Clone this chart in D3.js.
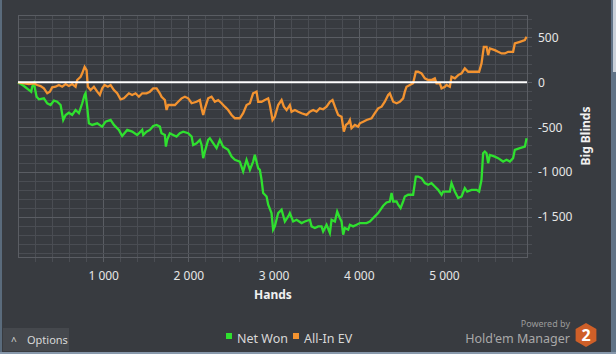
<!DOCTYPE html>
<html>
<head>
<meta charset="utf-8">
<script src="https://cdn.jsdelivr.net/npm/d3@7"></script>
<style>
  html, body { margin: 0; padding: 0; background: #383b40; }
  svg { display: block; }
</style>
</head>
<body>
<svg id="chart" width="616" height="354"></svg>
<script>
// values (hands, big blinds)
const netWonHands = [0, 70, 130, 155, 167, 187, 218, 245, 304, 343, 383, 421, 460, 500, 531, 559, 597, 636, 676, 715, 754, 782, 793, 812, 832, 871, 930, 988, 1028, 1087, 1126, 1184, 1223, 1282, 1340, 1399, 1458, 1470, 1509, 1548, 1587, 1627, 1665, 1685, 1724, 1736, 1751, 1783, 1822, 1861, 1900, 1939, 1998, 2038, 2056, 2096, 2135, 2155, 2174, 2194, 2232, 2252, 2291, 2331, 2370, 2408, 2467, 2507, 2546, 2604, 2643, 2683, 2722, 2760, 2780, 2819, 2839, 2859, 2878, 2918, 2937, 2976, 2995, 3015, 3054, 3094, 3133, 3172, 3191, 3230, 3270, 3329, 3367, 3426, 3446, 3485, 3524, 3563, 3582, 3622, 3661, 3681, 3720, 3747, 3778, 3798, 3817, 3837, 3876, 3896, 3934, 3974, 4013, 4092, 4130, 4189, 4228, 4287, 4326, 4365, 4385, 4404, 4444, 4463, 4491, 4521, 4541, 4580, 4638, 4670, 4697, 4737, 4776, 4815, 4854, 4893, 4932, 4972, 4991, 5030, 5069, 5089, 5128, 5167, 5207, 5245, 5273, 5324, 5383, 5413, 5441, 5460, 5480, 5500, 5519, 5539, 5597, 5636, 5695, 5735, 5774, 5812, 5832, 5891, 5950, 5970];
const netWonBB = [0, -41, -86, -104, -49, -11, -160, -189, -178, -233, -252, -204, -216, -252, -419, -363, -338, -363, -308, -344, -233, -141, -122, -271, -456, -474, -456, -493, -438, -419, -474, -530, -597, -530, -549, -586, -530, -586, -549, -530, -486, -474, -493, -567, -586, -716, -641, -567, -586, -604, -567, -549, -567, -604, -697, -678, -641, -697, -844, -771, -641, -622, -678, -733, -641, -716, -752, -827, -863, -882, -993, -863, -974, -882, -808, -956, -974, -1085, -1233, -1271, -1363, -1456, -1641, -1604, -1456, -1419, -1549, -1493, -1456, -1549, -1530, -1567, -1549, -1530, -1604, -1622, -1604, -1604, -1660, -1586, -1678, -1530, -1549, -1438, -1511, -1549, -1697, -1622, -1641, -1586, -1604, -1586, -1567, -1567, -1549, -1493, -1456, -1374, -1338, -1327, -1233, -1327, -1327, -1363, -1400, -1327, -1271, -1252, -1252, -1049, -1049, -1067, -1122, -1141, -1122, -1160, -1197, -1252, -1216, -1216, -1216, -1122, -1216, -1289, -1271, -1178, -1216, -1197, -1197, -1216, -1085, -789, -771, -789, -900, -808, -827, -844, -882, -863, -882, -844, -752, -733, -716, -622];

const allInHands = [0, 128, 187, 225, 265, 304, 343, 374, 401, 441, 480, 519, 559, 597, 636, 676, 695, 735, 754, 782, 805, 820, 852, 891, 930, 961, 988, 1016, 1055, 1087, 1126, 1164, 1204, 1243, 1302, 1340, 1380, 1419, 1458, 1509, 1548, 1587, 1627, 1665, 1685, 1724, 1744, 1763, 1803, 1842, 1880, 1920, 1959, 1998, 2038, 2096, 2135, 2155, 2174, 2194, 2232, 2272, 2311, 2350, 2390, 2428, 2467, 2507, 2546, 2604, 2643, 2683, 2722, 2760, 2800, 2819, 2859, 2898, 2937, 2956, 2988, 3015, 3054, 3094, 3121, 3153, 3191, 3211, 3250, 3289, 3329, 3387, 3426, 3465, 3505, 3543, 3582, 3622, 3661, 3692, 3720, 3758, 3798, 3825, 3849, 3876, 3896, 3915, 3954, 3993, 4013, 4052, 4092, 4150, 4189, 4228, 4268, 4306, 4345, 4365, 4404, 4444, 4482, 4521, 4541, 4561, 4600, 4638, 4670, 4697, 4737, 4776, 4815, 4854, 4893, 4913, 4952, 4972, 5011, 5030, 5069, 5089, 5128, 5167, 5207, 5245, 5285, 5343, 5413, 5441, 5468, 5500, 5519, 5539, 5597, 5636, 5676, 5715, 5754, 5812, 5832, 5891, 5950, 5970];
const allInBB = [0, -19, -11, -30, -41, -67, -122, -104, -56, -49, -30, -49, -19, -41, -19, -49, 26, 62, 100, 173, 137, -49, -86, -49, -104, -141, -67, -30, -49, -30, -86, -122, -189, -178, -122, -141, -122, -160, -122, -122, -104, -67, -67, -122, -160, -197, -308, -252, -252, -252, -216, -178, -160, -178, -233, -216, -197, -289, -363, -289, -178, -160, -216, -197, -233, -271, -308, -363, -400, -400, -344, -252, -233, -122, -104, -216, -216, -197, -178, -252, -419, -382, -252, -197, -271, -308, -252, -327, -308, -327, -344, -363, -327, -308, -327, -289, -300, -271, -216, -197, -271, -363, -382, -549, -474, -456, -419, -511, -474, -493, -456, -438, -419, -400, -344, -289, -271, -216, -141, -122, -216, -233, -216, -178, -104, -49, -30, -11, 118, 118, 100, 44, 26, 26, 44, -11, -11, -67, -49, -30, -49, 62, 44, 81, 100, 156, 118, 118, 118, 211, 396, 396, 303, 378, 359, 340, 322, 322, 340, 340, 433, 451, 470, 507];

const seriesNames = ["Net Won", "All-In EV"];
const seriesColors = ["#2fe02f", "#f39330"];
const xTicks = [1000, 2000, 3000, 4000, 5000];
const yTicks = [-1500, -1000, -500, 0, 500];

const svg = d3.select("#chart");
const W = 616, H = 354;
const plot = { left: 18, right: 527, top: 15, bottom: 257 };

const x = d3.scaleLinear().domain([0, 5975]).range([plot.left, plot.right]);
const y = d3.scaleLinear().domain([-1945, 750]).range([plot.bottom, plot.top]);

const fmt = v => d3.format(",")(v).replace(/,/g, " ").replace("\u2212", "-");

svg.append("rect").attr("width", W).attr("height", H).attr("fill", "#383b40");

// window edges
svg.append("rect").attr("x", 0).attr("y", 0).attr("width", 2).attr("height", H).attr("fill", "#5a6b7c");
svg.append("rect").attr("x", 611).attr("y", 0).attr("width", 5).attr("height", H).attr("fill", "#607386");
svg.append("rect").attr("x", 613).attr("y", 0).attr("width", 3).attr("height", 72).attr("fill", "#c9d0d8");
svg.append("rect").attr("x", 0).attr("y", 352).attr("width", W).attr("height", 2).attr("fill", "#8798ab");

const g = svg.append("g");

// minor grid
g.append("g").selectAll("line")
  .data(d3.range(200, 5975, 200))
  .join("line")
  .attr("x1", d => Math.round(x(d)) + 0.5).attr("x2", d => Math.round(x(d)) + 0.5)
  .attr("y1", plot.top).attr("y2", plot.bottom + 5)
  .attr("stroke", d => d % 1000 === 0 ? "#5a5d63" : "#4a4d53");

g.append("g").selectAll("line")
  .data(d3.range(-1900, 751, 100))
  .join("line")
  .attr("x1", plot.left).attr("x2", plot.right + 5)
  .attr("y1", d => Math.round(y(d)) + 0.5).attr("y2", d => Math.round(y(d)) + 0.5)
  .attr("stroke", d => d % 500 === 0 ? "#5a5d63" : "#4a4d53");

// frame
g.append("rect")
  .attr("x", plot.left + 0.5).attr("y", plot.top + 0.5)
  .attr("width", plot.right - plot.left).attr("height", plot.bottom - plot.top)
  .attr("fill", "none").attr("stroke", "#5a5d63");

// series
const seriesData = [
  netWonHands.map((h, i) => [h, netWonBB[i]]),
  allInHands.map((h, i) => [h, allInBB[i]])
];
const line = d3.line().x(d => x(d[0])).y(d => y(d[1]));
seriesData.forEach((s, i) => {
  g.append("path")
    .attr("d", line(s))
    .attr("fill", "none")
    .attr("stroke", seriesColors[i])
    .attr("stroke-width", 2.3)
    .attr("stroke-linejoin", "miter");
});

// zero line
g.append("line")
  .attr("x1", plot.left).attr("x2", plot.right)
  .attr("y1", y(0)).attr("y2", y(0))
  .attr("stroke", "#ffffff").attr("stroke-width", 2);

// axes
const xAxis = g.append("g")
  .attr("transform", `translate(0,${plot.bottom})`)
  .call(d3.axisBottom(x).tickValues(xTicks).tickFormat(fmt).tickSize(0).tickPadding(14));
const yAxis = g.append("g")
  .attr("transform", `translate(${plot.right},0)`)
  .call(d3.axisRight(y).tickValues(yTicks).tickFormat(fmt).tickSize(0).tickPadding(11));
[xAxis, yAxis].forEach(a => {
  a.select(".domain").remove();
  a.selectAll("text")
    .attr("fill", "#e6e6e6")
    .style("font-family", "'Noto Sans', sans-serif")
    .style("font-size", "12px");
});

svg.append("text")
  .attr("x", 273).attr("y", 299)
  .attr("text-anchor", "middle")
  .attr("fill", "#f0f0f0")
  .style("font-family", "'Noto Sans', sans-serif")
  .style("font-size", "12px").style("font-weight", "bold")
  .text("Hands");

svg.append("text")
  .attr("transform", "translate(590,136) rotate(-90)")
  .attr("text-anchor", "middle")
  .attr("fill", "#f0f0f0")
  .style("font-family", "'Noto Sans', sans-serif")
  .style("font-size", "12px").style("font-weight", "bold")
  .text("Big Blinds");

// legend
const legendX = [226, 293];
seriesNames.forEach((name, i) => {
  svg.append("rect")
    .attr("x", legendX[i]).attr("y", 333)
    .attr("width", 6).attr("height", 6)
    .attr("fill", seriesColors[i]);
  svg.append("text")
    .attr("x", legendX[i] + 11).attr("y", 343)
    .attr("fill", "#d8d8d8")
    .style("font-family", "'Noto Sans', sans-serif")
    .style("font-size", "12.5px")
    .text(name);
});

// options button
svg.append("rect").attr("x", 3).attr("y", 328).attr("width", 66).attr("height", 23).attr("fill", "#45484d");
svg.append("text").attr("x", 11).attr("y", 345).attr("fill", "#d8d8d8")
  .style("font-family", "'Noto Sans', sans-serif").style("font-size", "10px").text("^");
svg.append("text").attr("x", 27).attr("y", 344).attr("fill", "#d8d8d8")
  .style("font-family", "'Noto Sans', sans-serif").style("font-size", "11px").text("Options");

// branding
svg.append("text").attr("x", 570).attr("y", 327).attr("text-anchor", "end").attr("fill", "#9a9a9a")
  .style("font-family", "'Noto Sans', sans-serif").style("font-size", "9px").text("Powered by");
svg.append("text").attr("x", 570).attr("y", 343).attr("text-anchor", "end").attr("fill", "#a8a8a8")
  .style("font-family", "'Noto Sans', sans-serif").style("font-size", "12.5px").text("Hold'em Manager");
const hex = d3.range(6).map(k => {
  const a = Math.PI / 3 * k - Math.PI / 2;
  return [586 + 12 * Math.cos(a), 335 + 12 * Math.sin(a)];
});
svg.append("polygon").attr("points", hex.map(p => p.join(",")).join(" ")).attr("fill", "#cf5f28");
svg.append("text").attr("x", 586).attr("y", 341).attr("text-anchor", "middle").attr("fill", "#ffffff")
  .style("font-family", "'Noto Sans', sans-serif").style("font-size", "16px").style("font-weight", "bold").text("2");
</script>
</body>
</html>
